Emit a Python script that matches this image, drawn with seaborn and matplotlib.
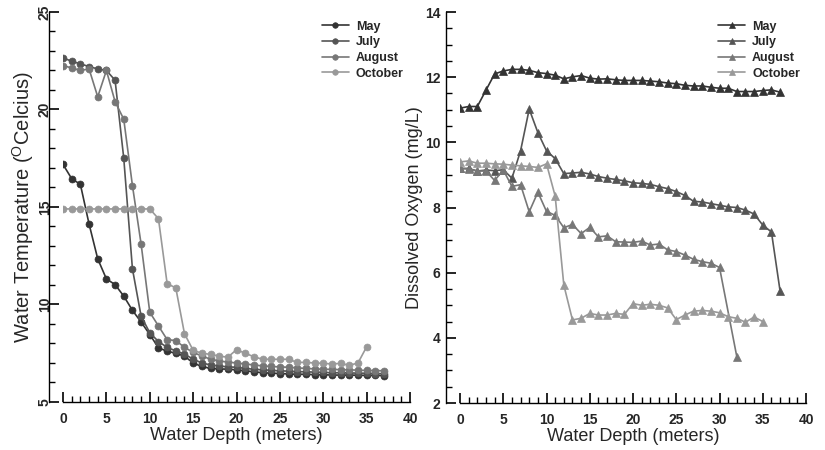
import matplotlib
matplotlib.use("Agg")
import matplotlib.pyplot as plt
from matplotlib.ticker import MultipleLocator
import seaborn as sns
import pandas as pd

# --- DATA ---
months = ["May", "July", "August", "October"]
colors = ["#333333", "#555555", "#777777", "#999999"]

depth_full = list(range(0, 38))
depth_oct = list(range(0, 36))
depth_aug_do = list(range(0, 31)) + [32]

may_temp = [17.18, 16.45, 16.16, 14.13, 12.34, 11.31, 11.02, 10.43, 9.7, 9.1,
            8.46, 7.78, 7.6, 7.5, 7.35, 7.0, 6.82, 6.72, 6.7, 6.68,
            6.65, 6.6, 6.55, 6.5, 6.48, 6.46, 6.44, 6.42, 6.42, 6.4,
            6.4, 6.38, 6.38, 6.38, 6.37, 6.36, 6.36, 6.35]
july_temp = [22.65, 22.47, 22.34, 22.2, 22.08, 22.0, 21.5, 17.5, 11.83, 9.4,
             8.55, 8.1, 7.8, 7.62, 7.45, 7.2, 7.0, 6.9, 6.85, 6.8,
             6.78, 6.72, 6.68, 6.65, 6.62, 6.6, 6.58, 6.56, 6.55, 6.53,
             6.52, 6.5, 6.5, 6.49, 6.48, 6.47, 6.46, 6.45]
august_temp = [22.25, 22.13, 22.0, 22.08, 20.65, 22.0, 20.4, 19.5, 16.1, 13.1,
               9.6, 8.9, 8.2, 8.15, 7.8, 7.55, 7.35, 7.2, 7.1, 7.05,
               7.0, 6.95, 6.9, 6.85, 6.82, 6.8, 6.78, 6.75, 6.72, 6.7,
               6.68, 6.67, 6.66, 6.65, 6.63, 6.62, 6.61, 6.6]
october_temp = [14.9, 14.9, 14.9, 14.9, 14.9, 14.9, 14.9, 14.9, 14.9, 14.9,
                14.9, 14.4, 11.07, 10.85, 8.5, 7.65, 7.5, 7.44, 7.35, 7.3,
                7.68, 7.5, 7.32, 7.19, 7.19, 7.19, 7.19, 7.03, 7.03, 7.0,
                6.98, 6.95, 6.98, 6.88, 7.0, 7.83]

may_do = [11.05, 11.1, 11.1, 11.6, 12.1, 12.19, 12.24, 12.24, 12.21, 12.14,
          12.11, 12.06, 11.95, 12.01, 12.05, 11.97, 11.94, 11.95, 11.92, 11.9,
          11.9, 11.9, 11.88, 11.86, 11.82, 11.8, 11.75, 11.73, 11.73, 11.69,
          11.66, 11.66, 11.56, 11.56, 11.56, 11.59, 11.61, 11.54]
july_do = [9.2, 9.2, 9.12, 9.15, 9.13, 9.16, 8.9, 9.74, 11.02, 10.3,
           9.74, 9.5, 9.04, 9.06, 9.08, 9.03, 8.95, 8.9, 8.86, 8.82,
           8.76, 8.74, 8.71, 8.64, 8.58, 8.49, 8.37, 8.19, 8.17, 8.12,
           8.07, 8.02, 8.0, 7.92, 7.8, 7.46, 7.25, 5.44]
august_do = [9.2, 9.18, 9.12, 9.12, 8.83, 9.15, 8.65, 8.7, 7.87, 8.47,
             7.88, 7.76, 7.38, 7.48, 7.2, 7.39, 7.1, 7.13, 6.95, 6.94,
             6.93, 6.97, 6.85, 6.88, 6.7, 6.65, 6.54, 6.41, 6.34, 6.29,
             6.16, 3.42]
october_do = [9.4, 9.43, 9.36, 9.36, 9.34, 9.33, 9.3, 9.28, 9.26, 9.23,
              9.34, 8.35, 5.62, 4.55, 4.6, 4.75, 4.7, 4.7, 4.75, 4.72,
              5.05, 5.0, 5.03, 5.0, 4.92, 4.56, 4.7, 4.82, 4.84, 4.82,
              4.77, 4.65, 4.6, 4.48, 4.64, 4.5]

temp_series = [(depth_full, may_temp), (depth_full, july_temp),
               (depth_full, august_temp), (depth_oct, october_temp)]
do_series = [(depth_full, may_do), (depth_full, july_do),
             (depth_aug_do, august_do), (depth_oct, october_do)]

# --- STYLE ---
sns.set_style("ticks")
plt.rcParams["font.family"] = ["Liberation Sans", "DejaVu Sans"]
plt.rcParams["mathtext.fontset"] = "custom"
plt.rcParams["mathtext.rm"] = "Liberation Sans"

fig = plt.figure(figsize=(8.25, 4.5), dpi=100)
ax1 = fig.add_axes([0.0764, 0.1067, 0.4206, 0.8667])
ax2 = fig.add_axes([0.5576, 0.1044, 0.4194, 0.8689])


def draw_panel(ax, series, marker, msize):
    for month, color, (x, y) in zip(months, colors, series):
        df = pd.DataFrame({"depth": x, "value": y})
        sns.lineplot(data=df, x="depth", y="value", ax=ax, color=color,
                     marker=marker, markersize=msize, markeredgecolor=color,
                     markeredgewidth=0.5, linewidth=1.2, label=month)
    ax.set_xlim(0, 40)
    ax.xaxis.set_major_locator(MultipleLocator(5))
    ax.xaxis.set_minor_locator(MultipleLocator(1))
    ax.set_xlabel("Water Depth (meters)", fontsize=13, labelpad=1)
    sns.despine(ax=ax)
    ax.spines["left"].set_position(("outward", 10))
    for s in ["left", "bottom"]:
        ax.spines[s].set_color("black")
        ax.spines[s].set_linewidth(1.0)
    ax.tick_params(which="both", bottom=True, left=True, top=False, right=False)
    ax.tick_params(which="major", direction="in", length=7, width=1.2,
                   color="black", labelsize=10, pad=7)
    ax.tick_params(which="minor", direction="in", length=4, width=1.0,
                   color="black")
    for lab in ax.get_xticklabels() + ax.get_yticklabels():
        lab.set_fontweight("bold")
    leg = ax.legend(loc="upper left", bbox_to_anchor=(0.745, 0.978),
                    frameon=False, fontsize=9, handlelength=2.2,
                    handletextpad=0.55, labelspacing=0.3, borderpad=0,
                    borderaxespad=0, markerscale=0.8)
    for t in leg.get_texts():
        t.set_fontweight("bold")


# --- LEFT: TEMPERATURE ---
draw_panel(ax1, temp_series, "o", 5)
ax1.set_ylim(5, 25)
ax1.yaxis.set_major_locator(MultipleLocator(5))
ax1.yaxis.set_minor_locator(MultipleLocator(1))
ax1.tick_params(axis="y", which="major", pad=-2)
ax1.set_ylabel(r"Water Temperature ($^{\mathrm{O}}$Celcius)", fontsize=14.5)
ax1.yaxis.set_label_coords(-0.078, 0.5)
for lab in ax1.get_yticklabels():
    lab.set_rotation(90)
    lab.set_va("center")
    lab.set_fontweight("bold")

# --- RIGHT: DISSOLVED OXYGEN ---
draw_panel(ax2, do_series, "^", 6)
ax2.set_ylim(2, 14)
ax2.yaxis.set_major_locator(MultipleLocator(2))
ax2.yaxis.set_minor_locator(MultipleLocator(0.5))
ax2.tick_params(axis="y", which="major", pad=4)
ax2.set_ylabel("Dissolved Oxygen (mg/L)", fontsize=13)
ax2.yaxis.set_label_coords(-0.106, 0.5)
for lab in ax2.get_yticklabels():
    lab.set_fontweight("bold")

fig.savefig("out.png", dpi=100)
